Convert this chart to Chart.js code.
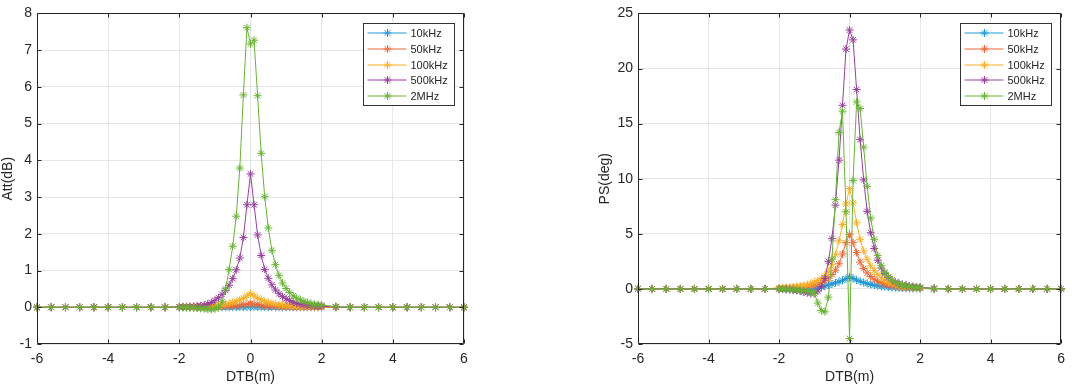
<!DOCTYPE html>
<html><head><meta charset="utf-8">
<script src="https://cdn.jsdelivr.net/npm/chart.js@4"></script>
<style>
html,body{margin:0;padding:0;background:#fff;width:1072px;height:386px;overflow:hidden}
#c1{position:absolute;left:0;top:0}
#c2{position:absolute;left:597px;top:0}
</style></head><body>
<canvas id="c1" width="480" height="386"></canvas>
<canvas id="c2" width="475" height="386"></canvas>
<script>
const xs = [-6,-5.6,-5.2,-4.8,-4.4,-4,-3.6,-3.2,-2.8,-2.4,
  -2,-1.9,-1.8,-1.7,-1.6,-1.5,-1.4,-1.3,-1.2,-1.1,
  -1,-0.9,-0.8,-0.7,-0.6,-0.5,-0.4,-0.3,-0.2,-0.1,
  0,
  0.1,0.2,0.3,0.4,0.5,0.6,0.7,0.8,0.9,1,
  1.1,1.2,1.3,1.4,1.5,1.6,1.7,1.8,1.9,2,
  2.4,2.8,3.2,3.6,4,4.4,4.8,5.2,5.6,6];

const seriesNames = ['10kHz','50kHz','100kHz','500kHz','2MHz'];
const seriesColors = ['#1f97d4','#ee6838','#f7b024','#983e9e','#68b432'];

const xTicks = [-6,-4,-2,0,2,4,6];
const attTicks = [-1,0,1,2,3,4,5,6,7,8];
const psTicks = [-5,0,5,10,15,20,25];

// Att(dB)
const att10k = [0,0,0,0,0,0,0,0,0,0,
  0,0,0,0,0,0,0,0,0,0,
  0,0.001,0.001,0.002,0.002,0.003,0.004,0.005,0.007,0.009,
  0.012,
  0.009,0.007,0.005,0.004,0.003,0.002,0.002,0.001,0.001,0,
  0,0,0,0,0,0,0,0,0,0,
  0,0,0,0,0,0,0,0,0,0];
const att50k = [0,0,0,0,0,0,0,0,0,0,
  0.003,0.004,0.004,0.005,0.005,0.006,0.007,0.008,0.01,0.012,
  0.014,0.017,0.02,0.025,0.03,0.037,0.046,0.057,0.07,0.085,
  0.1,
  0.085,0.07,0.057,0.046,0.037,0.03,0.025,0.02,0.017,0.014,
  0.012,0.01,0.008,0.007,0.006,0.005,0.005,0.004,0.004,0.003,
  0,0,0,0,0,0,0,0,0,0];
const att100k = [0,0,0,0,0,0,0,0,0,0,
  0.010,0.012,0.014,0.016,0.018,0.021,0.025,0.029,0.034,0.040,
  0.048,0.058,0.070,0.085,0.105,0.13,0.16,0.20,0.25,0.31,
  0.37,
  0.31,0.25,0.20,0.16,0.13,0.105,0.085,0.070,0.058,0.048,
  0.040,0.034,0.029,0.025,0.021,0.018,0.016,0.014,0.012,0.011,
  0,0,0,0,0,0,0,0,0,0];
const att500k = [0,0,0,0,0,0,0,0,0,0,
  0.01,0.01,0.01,0.02,0.02,0.03,0.04,0.06,0.09,0.13,
  0.19,0.26,0.35,0.46,0.60,0.78,1.02,1.34,1.90,2.79,
  3.63,
  2.79,1.97,1.41,1.03,0.79,0.61,0.47,0.37,0.29,0.23,
  0.18,0.14,0.11,0.09,0.07,0.06,0.05,0.04,0.03,0.03,
  0.01,0,0,0,0,0,0,0,0,0];
const att2M = [0,0,0,0,0,0,0,0,0,0,
  0,0,-0.01,-0.01,-0.01,-0.02,-0.03,-0.04,-0.05,-0.06,
  -0.04,0.0,0.15,0.5,1.03,1.66,2.48,3.79,5.78,7.61,
  7.17,
  7.27,5.76,4.19,3.01,2.16,1.55,1.16,0.87,0.66,0.51,
  0.40,0.31,0.25,0.20,0.16,0.13,0.10,0.08,0.07,0.06,
  0.02,0,0,0,0,0,0,0,0,0];

// PS(deg)
const ps10k = [0,0,0,0,0,0,0,0,0,0,
  -0.02,-0.02,-0.03,-0.03,-0.04,-0.04,-0.05,-0.05,-0.05,-0.04,
  0.0,0.08,0.17,0.26,0.35,0.44,0.54,0.65,0.78,0.92,
  1.08,
  0.95,0.80,0.68,0.57,0.48,0.40,0.34,0.28,0.23,0.19,
  0.16,0.13,0.11,0.09,0.08,0.06,0.05,0.04,0.04,0.03,
  0,0,0,0,0,0,0,0,0,0];
const ps50k = [0,0,0,0,0,0,0,0,0,0,
  0.05,0.06,0.07,0.08,0.10,0.12,0.15,0.19,0.23,0.29,
  0.36,0.45,0.58,0.75,1.0,1.3,1.7,2.28,3.17,4.2,
  4.95,
  4.2,3.3,2.43,1.85,1.45,1.12,0.88,0.70,0.55,0.44,
  0.36,0.29,0.24,0.20,0.16,0.13,0.11,0.09,0.08,0.07,
  0.02,0,0,0,0,0,0,0,0,0];
const ps100k = [0,0,0,0,0,0,0,0,0,0,
  0.10,0.10,0.12,0.14,0.16,0.20,0.24,0.30,0.38,0.48,
  0.60,0.75,0.95,1.2,1.6,2.2,3.1,4.36,5.84,7.7,
  9.1,
  7.8,6.0,4.5,3.45,2.7,2.1,1.65,1.3,1.0,0.8,
  0.62,0.5,0.4,0.32,0.26,0.21,0.17,0.14,0.12,0.10,
  0.03,0,0,0,0,0,0,0,0,0];
const ps500k = [0,0,0,0,0,0,0,0,0,0,
  0,-0.02,-0.04,-0.07,-0.1,-0.14,-0.2,-0.27,-0.35,-0.42,
  -0.42,-0.2,0.2,0.95,2.5,4.56,7.6,11.68,16.66,21.76,
  23.49,
  22.6,18.09,13.55,9.9,7.03,5.1,3.67,2.6,1.9,1.4,
  1.05,0.8,0.62,0.5,0.4,0.32,0.26,0.22,0.18,0.15,
  0.05,0,0,0,0,0,0,0,0,0];
const ps2M = [0,0,0,0,0,0,0,0,0,0,
  0,-0.02,-0.03,-0.05,-0.07,-0.09,-0.12,-0.16,-0.2,-0.28,
  -0.4,-1.28,-1.95,-2.08,-0.75,2.7,8.1,14.2,16.13,7.0,
  -4.5,
  9.84,16.96,16.37,12.87,9.3,6.43,4.5,3.02,2.1,1.5,
  1.1,0.8,0.6,0.45,0.35,0.27,0.21,0.17,0.14,0.12,
  0.04,0,0,0,0,0,0,0,0,0];

const FONT = '"Liberation Sans", Arial, Helvetica, sans-serif';
const TXT = '#262626';
const GRID = '#e6e6e6';

function makeDatasets(arrs){
  return arrs.map((a,i)=>({
    label: seriesNames[i],
    data: xs.map((x,j)=>({x:x,y:a[j]})),
    borderColor: seriesColors[i],
    backgroundColor: seriesColors[i],
    pointBorderColor: seriesColors[i],
    borderWidth: 1,
    pointStyle: 'star',
    pointRadius: 4,
    pointBorderWidth: 1,
    tension: 0,
    order: 5 - i,
    clip: 8
  }));
}

function starAt(ctx, x, y, r){
  ctx.beginPath();
  ctx.moveTo(x-r,y); ctx.lineTo(x+r,y);
  ctx.moveTo(x,y-r); ctx.lineTo(x,y+r);
  const d = r*Math.SQRT1_2;
  ctx.moveTo(x-d,y-d); ctx.lineTo(x+d,y+d);
  ctx.moveTo(x-d,y+d); ctx.lineTo(x+d,y-d);
  ctx.stroke();
}

const framePlugin = {
  id: 'frame',
  afterDatasetsDraw(chart){
    const ctx = chart.ctx, ca = chart.chartArea;
    const xs_ = chart.scales.x, ys_ = chart.scales.y;
    ctx.save();
    ctx.strokeStyle = TXT; ctx.lineWidth = 1;
    const L = Math.round(ca.left)+0.5, R = Math.round(ca.right)-0.5, T = Math.round(ca.top)+0.5, B = Math.round(ca.bottom)-0.5;
    ctx.beginPath(); ctx.rect(L, T, R-L, B-T); ctx.stroke();
    const tl = 4;
    ctx.beginPath();
    xs_.ticks.forEach(t=>{
      const px = Math.round(xs_.getPixelForValue(t.value))+0.5;
      ctx.moveTo(px,B); ctx.lineTo(px,B-tl);
      ctx.moveTo(px,T); ctx.lineTo(px,T+tl);
    });
    ys_.ticks.forEach(t=>{
      const py = Math.round(ys_.getPixelForValue(t.value))+0.5;
      ctx.moveTo(L,py); ctx.lineTo(L+tl,py);
      ctx.moveTo(R,py); ctx.lineTo(R-tl,py);
    });
    ctx.stroke();
    ctx.restore();
  },
  afterDraw(chart){
    const ctx = chart.ctx, ca = chart.chartArea;
    const bw = 91, bh = 82;
    const bx = Math.round(ca.right - 10 - bw)+0.5, by = Math.round(ca.top + 10)+0.5;
    ctx.save();
    ctx.fillStyle = '#ffffff';
    ctx.fillRect(bx, by, bw, bh);
    ctx.strokeStyle = '#333333'; ctx.lineWidth = 1;
    ctx.strokeRect(bx, by, bw, bh);
    chart.data.datasets.forEach((ds,i)=>{
      const y = Math.round(by + 9.5 + i*15.8);
      ctx.strokeStyle = ds.borderColor; ctx.lineWidth = 1;
      ctx.beginPath(); ctx.moveTo(bx+4, y); ctx.lineTo(bx+43, y); ctx.stroke();
      starAt(ctx, bx+24, y, 4);
      ctx.fillStyle = TXT;
      ctx.font = '11px ' + FONT;
      ctx.textBaseline = 'middle';
      ctx.textAlign = 'left';
      ctx.fillText(ds.label, bx+47, y+0.5);
    });
    ctx.restore();
  }
};

function makeChart(id, arrs, yTicks, yTitle, yWidth, rightPad){
  return new Chart(document.getElementById(id), {
    type: 'line',
    data: { datasets: makeDatasets(arrs) },
    options: {
      responsive: false,
      animation: false,
      layout: { padding: { top: 6, right: rightPad, left: 0, bottom: 0 } },
      plugins: { legend: { display: false }, tooltip: { enabled: false } },
      scales: {
        x: {
          type: 'linear', min: xTicks[0], max: xTicks[xTicks.length-1],
          afterBuildTicks: s => { s.ticks = xTicks.map(v=>({value:v})); },
          ticks: { padding: 7, color: TXT, font: { family: FONT, size: 14 }, maxRotation: 0, autoSkip: false },
          grid: { color: GRID, drawTicks: false, lineWidth: 1 },
          border: { display: false },
          title: { display: true, text: 'DTB(m)', color: TXT, font: { family: FONT, size: 14 }, padding: 0 },
          afterFit: s => { s.height = 42; }
        },
        y: {
          type: 'linear', min: yTicks[0], max: yTicks[yTicks.length-1],
          afterBuildTicks: s => { s.ticks = yTicks.map(v=>({value:v})); },
          ticks: { padding: 5, color: TXT, font: { family: FONT, size: 14 }, autoSkip: false },
          grid: { color: GRID, drawTicks: false, lineWidth: 1 },
          border: { display: false },
          title: { display: true, text: yTitle, color: TXT, font: { family: FONT, size: 14 }, padding: 0 },
          afterFit: s => { s.width = yWidth; }
        }
      }
    },
    plugins: [framePlugin]
  });
}

makeChart('c1', [att10k, att50k, att100k, att500k, att2M], attTicks, 'Att(dB)', 37, 16);
makeChart('c2', [ps10k, ps50k, ps100k, ps500k, ps2M], psTicks, 'PS(deg)', 41, 7);
</script>
</body></html>
